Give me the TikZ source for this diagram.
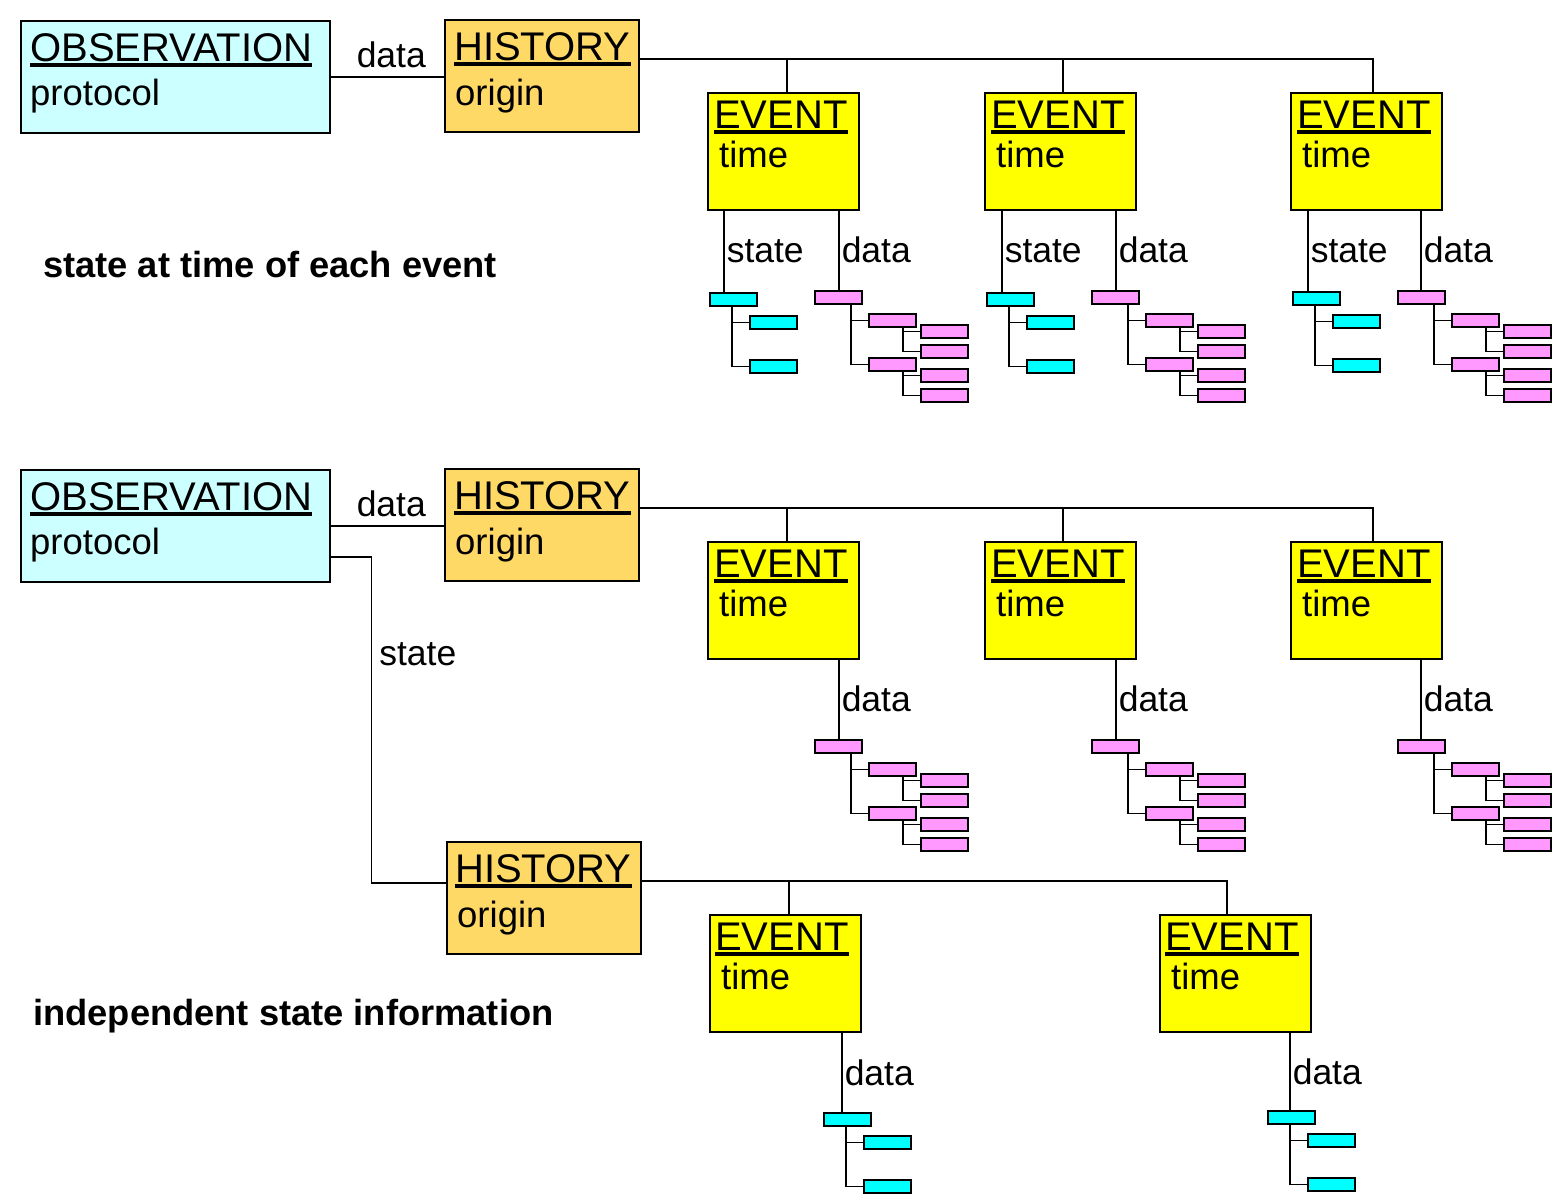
\documentclass[tikz,border=0pt]{standalone}
\usepackage{fontspec}
\setmainfont{Liberation Sans}
\usetikzlibrary{positioning,calc}
\definecolor{obsfill}{RGB}{204,255,255}
\definecolor{histfill}{RGB}{255,217,102}
\definecolor{evfill}{RGB}{255,255,0}
\definecolor{statefill}{RGB}{0,255,255}
\definecolor{datafill}{RGB}{255,153,255}
\tikzset{
	obsbox/.style={rectangle, draw, line width=1.6pt, fill=obsfill, anchor=north west, inner sep=0pt, minimum width=309pt, minimum height=112pt},
	histbox/.style={rectangle, draw, line width=1.6pt, fill=histfill, anchor=north west, inner sep=0pt, minimum width=194pt, minimum height=112pt},
	evbox/.style={rectangle, draw, line width=1.6pt, fill=evfill, anchor=north west, inner sep=0pt, minimum width=151pt, minimum height=117pt},
	sbox/.style={rectangle, draw, line width=1.5pt, fill=statefill, anchor=north west, inner sep=0pt, minimum width=47pt, minimum height=13pt},
	dbox/.style={rectangle, draw, line width=1.5pt, fill=datafill, anchor=north west, inner sep=0pt, minimum width=47pt, minimum height=13pt},
	link/.style={line width=1.5pt},
	head/.style={anchor=base west, inner sep=0pt, font=\fontsize{40}{45}\selectfont},
	sub/.style={anchor=base west, inner sep=0pt, font=\fontsize{36.5}{41}\selectfont},
	lab/.style={inner sep=2pt, font=\fontsize{35.5}{40}\selectfont},
	caption/.style={anchor=base west, inner sep=0pt, font=\fontsize{36.3}{41}\selectfont\bfseries}
}
% underlined box title
\newcommand\headline[1]{\setbox0\hbox{#1}\rlap{\rule[-6pt]{\wd0}{4pt}}\box0}
% title and second line of a box
\newcommand\boxtext[7]{%
	\node[head] (#1-t) at ([shift={(#4,#5)}]#1.north west) {\headline{#2}};
	\node[sub] (#1-s) at ([shift={(#6,#7)}]#1.north west) {#3};}
% small state tree
\newcommand\statetree[3]{%
	\node[sbox] (#1) at (#2,#3) {};
	\node[sbox] (#1-1) at ([shift={(40,23)}]#1.north west) {};
	\node[sbox] (#1-2) at ([shift={(40,67)}]#1.north west) {};
	\draw[link] ([xshift=23pt]#1.south west) |- (#1-1.west)
		([xshift=23pt]#1.south west) |- (#1-2.west);}
% small data tree
\newcommand\datatree[3]{%
	\node[dbox] (#1) at (#2,#3) {};
	\node[dbox] (#1-1) at ([shift={(54,23)}]#1.north west) {};
	\node[dbox] (#1-2) at ([shift={(54,67)}]#1.north west) {};
	\node[dbox] (#1-11) at ([shift={(106,34)}]#1.north west) {};
	\node[dbox] (#1-12) at ([shift={(106,54)}]#1.north west) {};
	\node[dbox] (#1-21) at ([shift={(106,78)}]#1.north west) {};
	\node[dbox] (#1-22) at ([shift={(106,98)}]#1.north west) {};
	\draw[link] ([xshift=37pt]#1.south west) |- (#1-1.west)
		([xshift=37pt]#1.south west) |- (#1-2.west);
	\draw[link] ([xshift=35pt]#1-1.south west) |- (#1-11.west)
		([xshift=35pt]#1-1.south west) |- (#1-12.west);
	\draw[link] ([xshift=35pt]#1-2.south west) |- (#1-21.west)
		([xshift=35pt]#1-2.south west) |- (#1-22.west);}

\begin{document}
\begin{tikzpicture}[x=1pt, y=-1pt]
\useasboundingbox (0,0) rectangle (1564,1202);

% state at time of each event
\node[obsbox] (obs1) at (20,20) {};
\node[histbox] (hist1) at (444,19) {};
\node[evbox] (e1a) at (707,92) {};
\node[evbox] (e1b) at (984,92) {};
\node[evbox] (e1c) at (1290,92) {};
\boxtext{obs1}{OBSERVATION}{protocol}{10}{41}{10}{85}
\boxtext{hist1}{HISTORY}{origin}{10}{41}{11}{86}
\boxtext{e1a}{EVENT}{time}{7}{36}{12}{75}
\boxtext{e1b}{EVENT}{time}{7}{36}{12}{75}
\boxtext{e1c}{EVENT}{time}{7}{36}{12}{75}
\draw[link] (obs1.east) -- node[lab, above=6pt, xshift=4pt] {data} (obs1.east -| hist1.west);
\coordinate (h1) at ([yshift=17pt]hist1.east);
\coordinate (v1a) at ([xshift=3.5pt]e1a.north);
\coordinate (v1b) at ([xshift=2.5pt]e1b.north);
\coordinate (v1c) at ([xshift=6.5pt]e1c.north);
\draw[link] (h1) -| (v1c);
\draw[link] (v1a) -- (v1a |- h1);
\draw[link] (v1b) -- (v1b |- h1);
\statetree{s1a}{709}{292}
\statetree{s1b}{986}{292}
\statetree{s1c}{1292}{291}
\datatree{d1a}{814}{290}
\datatree{d1b}{1091}{290}
\datatree{d1c}{1397}{290}
\draw[link] ([xshift=17pt]e1a.south west) coordinate (c) -- node[lab, right] {state} (c |- s1a.north);
\draw[link] ([xshift=18pt]e1b.south west) coordinate (c) -- node[lab, right] {state} (c |- s1b.north);
\draw[link] ([xshift=18pt]e1c.south west) coordinate (c) -- node[lab, right] {state} (c |- s1c.north);
\draw[link] ([xshift=132pt]e1a.south west) coordinate (c) -- node[lab, right] {data} (c |- d1a.north);
\draw[link] ([xshift=132pt]e1b.south west) coordinate (c) -- node[lab, right] {data} (c |- d1b.north);
\draw[link] ([xshift=131pt]e1c.south west) coordinate (c) -- node[lab, right] {data} (c |- d1c.north);
\node[caption] (cap1) at (43,277) {state at time of each event};

% independent state information
\node[obsbox] (obs2) at (20,469) {};
\node[histbox] (hist2) at (444,468) {};
\node[evbox] (e2a) at (707,541) {};
\node[evbox] (e2b) at (984,541) {};
\node[evbox] (e2c) at (1290,541) {};
\boxtext{obs2}{OBSERVATION}{protocol}{10}{41}{10}{85}
\boxtext{hist2}{HISTORY}{origin}{10}{41}{11}{86}
\boxtext{e2a}{EVENT}{time}{7}{36}{12}{75}
\boxtext{e2b}{EVENT}{time}{7}{36}{12}{75}
\boxtext{e2c}{EVENT}{time}{7}{36}{12}{75}
\draw[link] (obs2.east) -- node[lab, above=6pt, xshift=4pt] {data} (obs2.east -| hist2.west);
\coordinate (h2) at ([yshift=17pt]hist2.east);
\coordinate (v2a) at ([xshift=3.5pt]e2a.north);
\coordinate (v2b) at ([xshift=2.5pt]e2b.north);
\coordinate (v2c) at ([xshift=6.5pt]e2c.north);
\draw[link] (h2) -| (v2c);
\draw[link] (v2a) -- (v2a |- h2);
\draw[link] (v2b) -- (v2b |- h2);
\datatree{d2a}{814}{739}
\datatree{d2b}{1091}{739}
\datatree{d2c}{1397}{739}
\draw[link] ([xshift=132pt]e2a.south west) coordinate (c) -- node[lab, right] {data} (c |- d2a.north);
\draw[link] ([xshift=132pt]e2b.south west) coordinate (c) -- node[lab, right] {data} (c |- d2b.north);
\draw[link] ([xshift=131pt]e2c.south west) coordinate (c) -- node[lab, right] {data} (c |- d2c.north);

\node[histbox] (hist3) at (446,841) {};
\node[evbox] (e3a) at (709,914) {};
\node[evbox] (e3b) at (1159,914) {};
\boxtext{hist3}{HISTORY}{origin}{9}{41}{11}{86}
\boxtext{e3a}{EVENT}{time}{6}{36}{12}{75}
\boxtext{e3b}{EVENT}{time}{6}{36}{12}{75}
\coordinate (o2s) at ([yshift=-31pt]obs2.east);
\coordinate (h3w) at ([yshift=15pt]hist3.west);
\draw[link] (o2s) -- ++(41,0) |- node[lab, pos=0.15, right=5pt] {state} (h3w);
\coordinate (h3) at ([yshift=17pt]hist3.east);
\coordinate (v3a) at ([xshift=3.5pt]e3a.north);
\coordinate (v3b) at ([xshift=-8.5pt]e3b.north);
\draw[link] (h3) -| (v3b);
\draw[link] (v3a) -- (v3a |- h3);
\statetree{s3a}{823}{1112}
\statetree{s3b}{1267}{1110}
\draw[link] ([xshift=133pt]e3a.south west) coordinate (c) -- node[lab, right] {data} (c |- s3a.north);
\draw[link] ([xshift=131pt]e3b.south west) coordinate (c) -- node[lab, right] {data} (c |- s3b.north);
\node[caption] (cap2) at (33,1025) {independent state information};
\end{tikzpicture}
\end{document}
